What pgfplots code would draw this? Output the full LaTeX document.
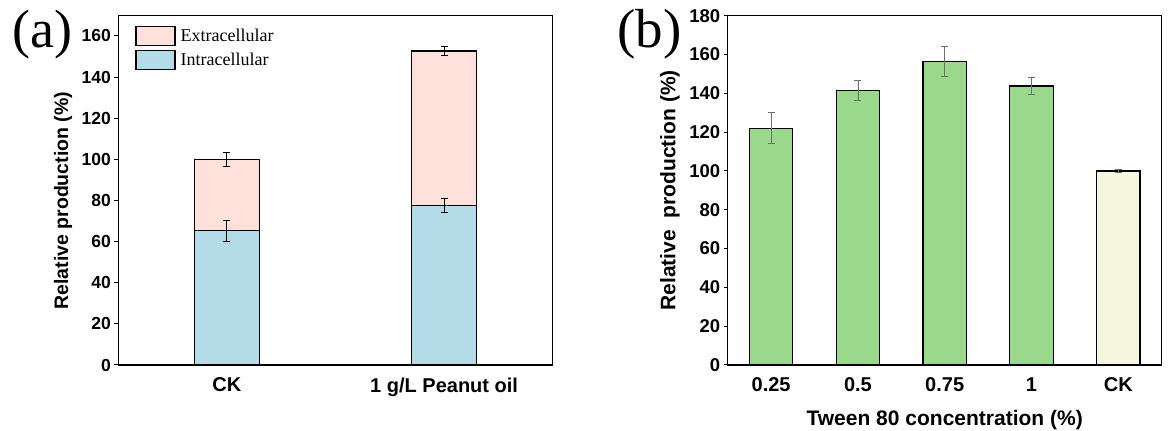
\documentclass[border=0pt]{standalone}
\usepackage{fontspec}
\setmainfont{Liberation Sans}
\newfontfamily\tnr{Liberation Serif}
\usepackage{pgfplots}
\pgfplotsset{compat=1.18}
\definecolor{pinkc}{RGB}{255,225,220}
\definecolor{bluec}{RGB}{180,220,232}
\definecolor{greenc}{RGB}{154,216,140}
\definecolor{ckc}{RGB}{246,246,222}
\definecolor{errg}{RGB}{110,110,110}
\pgfplotsset{
  common/.style={
    scale only axis,
    axis line style={line width=1.2pt},
    tick align=outside,
    ytick pos=left,
    xtick pos=bottom,
    major tick length=4pt,
    ytick style={line width=1pt, black},
    xtick style={draw=none},
    /pgf/number format/assume math mode=true,
    xticklabel style={font=\bfseries\fontsize{20}{20}\selectfont, yshift=-5pt},
    ylabel style={rotate=0, anchor=center},
  },
  barstyle/.style={ybar, bar shift=0pt, draw=black, line width=1.2pt},
}
\begin{document}
\begin{tikzpicture}
\useasboundingbox (0pt,0pt) rectangle (1168pt,431pt);
\fill[white] (0pt,0pt) rectangle (1168pt,431pt);
% panel (a)
\begin{axis}[common,
  at={(118.3pt,66pt)}, anchor=south west,
  width=434.4pt, height=349.7pt,
  xmin=-0.5, xmax=1.5, ymin=0, ymax=170,
  ytick={0,20,...,160},
  yticklabel style={font=\bfseries\fontsize{17.5}{17.5}\selectfont},
  xtick={0,1}, xticklabels={CK, 1 g/L Peanut oil},
  ylabel={Relative production (\%)},
  ylabel style={at={(axis description cs:-0.127,0.47)}, font=\bfseries\fontsize{19.5}{19.5}\selectfont},
  legend style={at={(0.039,0.97)}, anchor=north west, draw=none, fill=none,
    inner sep=0pt, row sep=4pt, font=\tnr\fontsize{18}{18}\selectfont,
    nodes={inner sep=1pt}, cells={anchor=west}},
  legend image code/.code={\draw[#1, line width=1.2pt] (0pt,-9.5pt) rectangle (39pt,9.5pt);},
]
\addplot[barstyle, bar width=0.3, fill=pinkc,
  error bars/.cd, y dir=both, y explicit,
  error bar style={black, line width=0.9pt},
  error mark options={rotate=90, black, mark size=3.5pt, line width=0.9pt}]
  table[x=x, y=y, y error=e] {
  x y e
  0 99.9 3.2
  1 152.6 2.1
};
\addlegendentry{\hspace{4pt}Extracellular}
\addplot[barstyle, bar width=0.3, fill=bluec,
  error bars/.cd, y dir=both, y explicit,
  error bar style={black, line width=0.9pt},
  error mark options={rotate=90, black, mark size=3.5pt, line width=0.9pt}]
  table[x=x, y=y, y error=e] {
  x y e
  0 65.3 5.2
  1 77.5 3.4
};
\addlegendentry{\hspace{4pt}Intracellular}
\end{axis}
\node[anchor=base west, inner sep=0pt, font=\tnr\fontsize{54}{54}\selectfont] at (12pt,383pt) {(a)};
% panel (b)
\begin{axis}[common,
  at={(727.7pt,66pt)}, anchor=south west,
  width=434pt, height=349.3pt,
  xmin=-0.5, xmax=4.5, ymin=0, ymax=180,
  ytick={0,20,...,180},
  yticklabel style={font=\bfseries\fontsize{18.5}{18.5}\selectfont},
  xtick={0,1,2,3,4}, xticklabels={0.25,0.5,0.75,1,CK},
  ylabel={Relative~~production (\%)},
  ylabel style={at={(axis description cs:-0.133,0.5)}, font=\bfseries\fontsize{21}{21}\selectfont},
  xlabel={Tween 80 concentration (\%)},
  xlabel style={at={(axis description cs:0.5,0)}, anchor=center, yshift=-55pt, font=\bfseries\fontsize{21}{21}\selectfont},
]
\addplot[barstyle, bar width=0.5, fill=greenc,
  error bars/.cd, y dir=both, y explicit,
  error bar style={errg, line width=0.8pt},
  error mark options={rotate=90, errg, mark size=3.5pt, line width=0.8pt}]
  table[x=x, y=y, y error=e] {
  x y e
  0 122.0 8.0
  1 141.6 5.1
  2 156.5 7.9
  3 143.8 4.5
};
\addplot[barstyle, bar width=0.5, fill=ckc,
  error bars/.cd, y dir=both, y explicit,
  error bar style={errg, line width=0.8pt},
  error mark options={rotate=90, errg, mark size=3.5pt, line width=0.8pt}]
  table[x=x, y=y, y error=e] {
  x y e
  4 100.0 0.7
};
\end{axis}
\node[anchor=base west, inner sep=0pt, font=\tnr\fontsize{55}{55}\selectfont] at (617pt,383pt) {(b)};
\end{tikzpicture}
\end{document}
